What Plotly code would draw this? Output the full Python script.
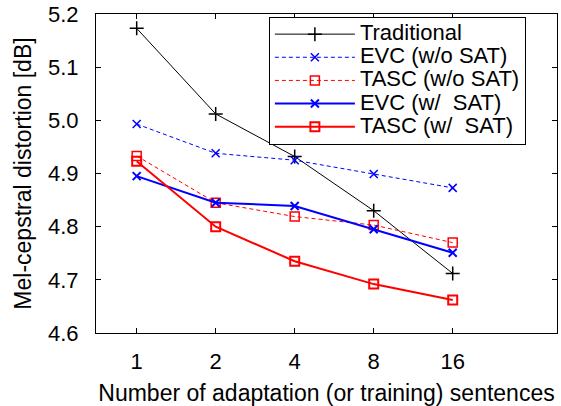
import plotly.graph_objects as go

categories = ["1", "2", "4", "8", "16"]
traditional = [5.173, 5.012, 4.932, 4.830, 4.712]
evc_wo = [4.993, 4.938, 4.925, 4.899, 4.873]
tasc_wo = [4.933, 4.845, 4.819, 4.803, 4.770]
evc_w = [4.895, 4.845, 4.839, 4.795, 4.751]
tasc_w = [4.923, 4.800, 4.735, 4.692, 4.662]
y_ticks = [4.6, 4.7, 4.8, 4.9, 5.0, 5.1, 5.2]

xpos = list(range(len(categories)))
FONT = "Liberation Sans, Arial, Helvetica, sans-serif"

fig = go.Figure()
series = [
    ("Traditional", traditional, "black", 1, "solid", "cross-thin", 10),
    ("EVC (w/o SAT)", evc_wo, "#0000ff", 1, "4px,3px", "x-thin", 8),
    ("TASC (w/o SAT)", tasc_wo, "#ff0000", 1, "4px,3px", "square-open", 9),
    ("EVC (w/  SAT)", evc_w, "#0000ff", 2, "solid", "x-thin", 8),
    ("TASC (w/  SAT)", tasc_w, "#ff0000", 2, "solid", "square-open", 9),
]
for name, ys, col, w, dash, sym, sz in series:
    fig.add_trace(go.Scatter(
        x=xpos, y=ys, name='<span style="font-size:22px">' + name.replace("  ", "&nbsp; ") + "</span>",
        mode="lines+markers",
        line=dict(color=col, width=w, dash=dash),
        marker=dict(symbol=sym, size=sz, color=col, line=dict(color=col, width=max(w, 1.5))),
    ))

fig.update_layout(
    width=561, height=406,
    margin=dict(l=96, r=4, t=14, b=73, autoexpand=False),
    paper_bgcolor="white", plot_bgcolor="white",
    font=dict(family=FONT, size=22, color="black"),
    showlegend=True,
    legend=dict(
        x=0.375, y=0.992, xanchor="left", yanchor="top",
        bordercolor="black", borderwidth=1, bgcolor="white",
        font=dict(size=15.5), itemwidth=80, tracegroupgap=0,
    ),
)
fig.update_xaxes(
    range=[-0.515, 5.32], tickmode="array", tickvals=xpos, ticktext=categories,
    ticks="inside", ticklen=5, tickcolor="black", showline=True, linecolor="black",
    linewidth=1.2, mirror="allticks", showgrid=False, zeroline=False,
    title=dict(text="Number of adaptation (or training) sentences", standoff=19,
               font=dict(size=23)),
    ticklabelstandoff=8, automargin=False,
)
fig.update_yaxes(
    range=[4.6, 5.2], tickmode="array", tickvals=y_ticks,
    ticktext=[f"{v:.1f}" for v in y_ticks],
    ticks="inside", ticklen=5, tickcolor="black", showline=True, linecolor="black",
    linewidth=1.2, mirror="allticks", showgrid=False, zeroline=False,
    title=dict(text="Mel-cepstral distortion [dB]", standoff=9, font=dict(size=23)),
    ticklabelstandoff=12, automargin=False,
)
fig.write_html("out.html", config={"displayModeBar": False},
               post_script="document.body.style.margin='0';")
